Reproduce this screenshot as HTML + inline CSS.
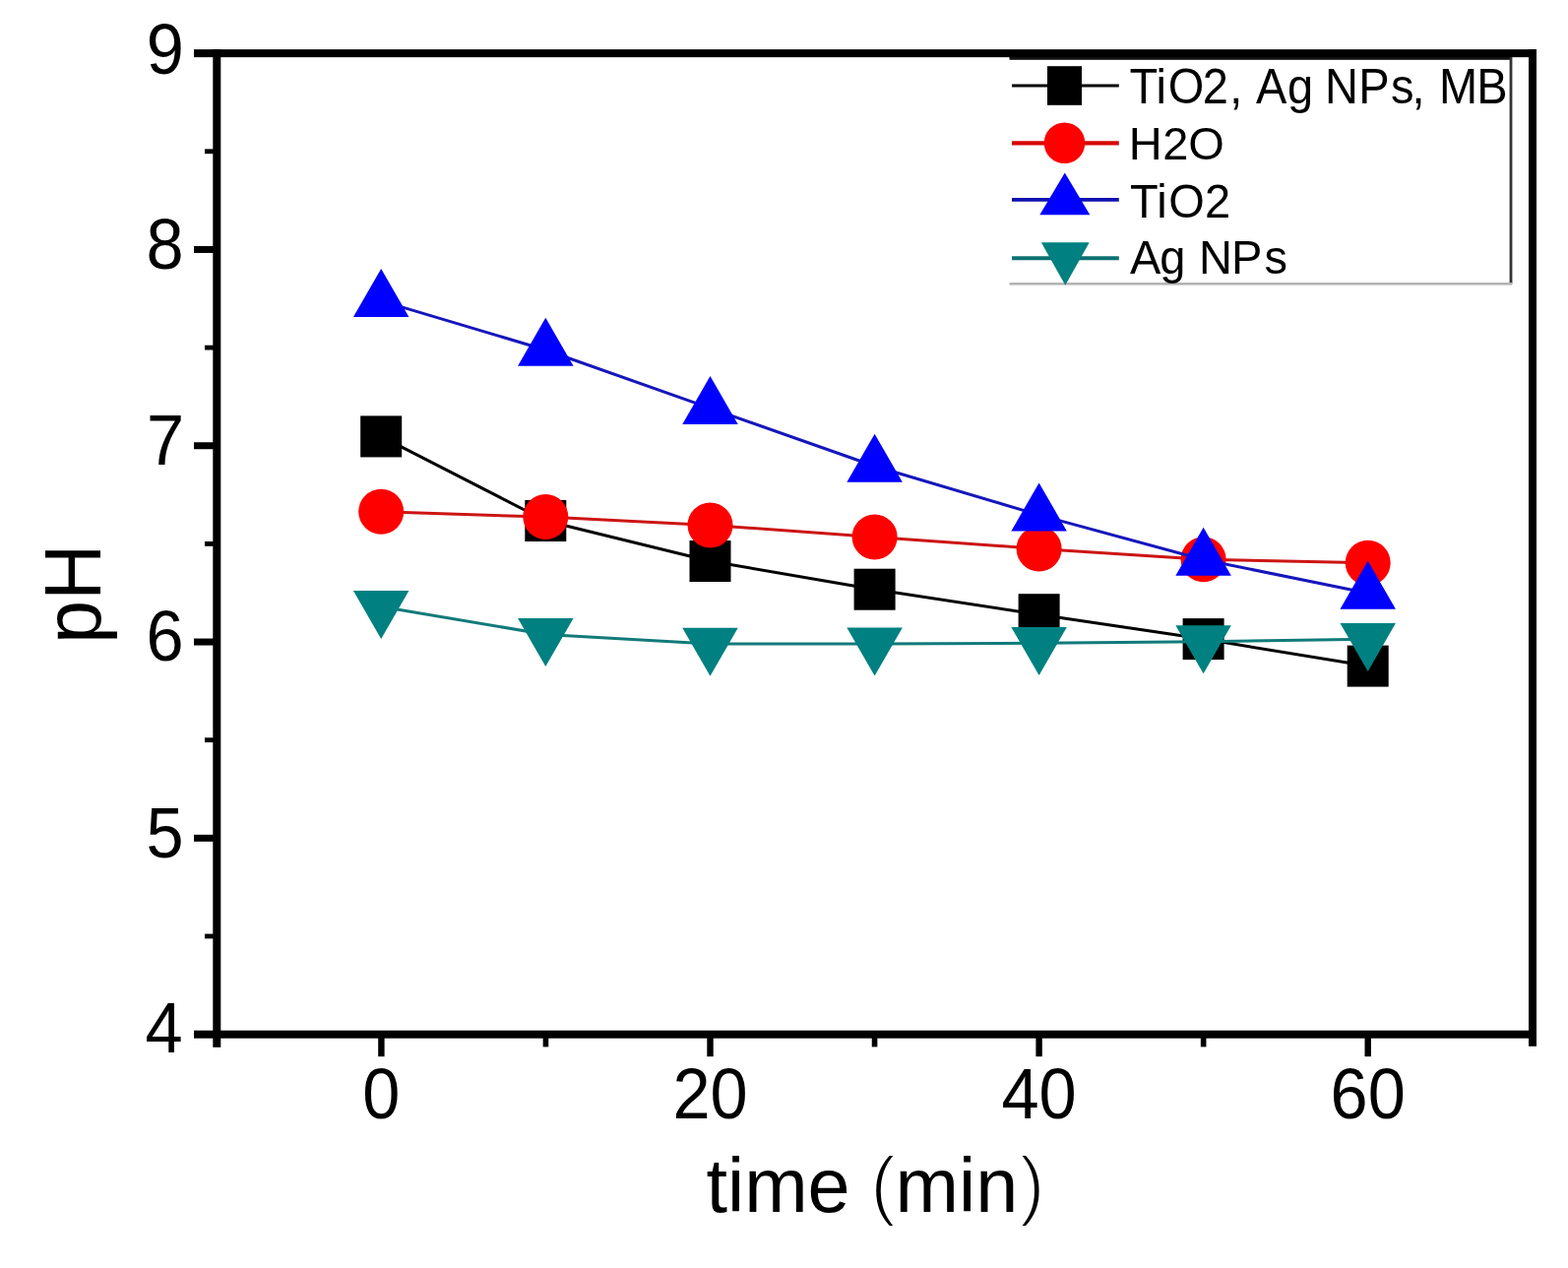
<!DOCTYPE html><html><head><meta charset="utf-8"><title>pH vs time</title><style>html,body{margin:0;padding:0;background:#fff;}svg{display:block;}text{font-family:"Liberation Sans",Arial,sans-serif;fill:#000;}</style></head><body>
<svg width="1593" height="1288" viewBox="0 0 1593 1288">
<rect width="1593" height="1288" fill="#fff"/>
<polyline points="387.2,443.4 554.3,529 721.5,570 888.6,598.7 1055.6,624.2 1222.6,649.1 1389.7,676.6" fill="none" stroke="#000000" stroke-width="3" stroke-linejoin="round"/>
<rect x="366.2" y="422.4" width="42" height="42" fill="#000"/>
<rect x="533.3" y="508" width="42" height="42" fill="#000"/>
<rect x="700.5" y="549" width="42" height="42" fill="#000"/>
<rect x="867.6" y="577.7" width="42" height="42" fill="#000"/>
<rect x="1034.6" y="603.2" width="42" height="42" fill="#000"/>
<rect x="1201.6" y="628.1" width="42" height="42" fill="#000"/>
<rect x="1368.7" y="655.6" width="42" height="42" fill="#000"/>
<polyline points="387.2,519.8 554.3,525.1 721.5,533.4 888.6,545.4 1055.6,557.4 1222.6,568.2 1389.7,571.7" fill="none" stroke="#cc1414" stroke-width="3" stroke-linejoin="round"/>
<circle cx="387.2" cy="519.8" r="23" fill="#ff0000"/>
<circle cx="554.3" cy="525.1" r="23" fill="#ff0000"/>
<circle cx="721.5" cy="533.4" r="23" fill="#ff0000"/>
<circle cx="888.6" cy="545.4" r="23" fill="#ff0000"/>
<circle cx="1055.6" cy="557.4" r="23" fill="#ff0000"/>
<circle cx="1222.6" cy="568.2" r="23" fill="#ff0000"/>
<circle cx="1389.7" cy="571.7" r="23" fill="#ff0000"/>
<polyline points="387.2,305.6 554.3,355.5 721.5,414.6 888.6,473.5 1055.6,523.1 1222.6,568.5 1389.7,602.5" fill="none" stroke="#1616bc" stroke-width="3" stroke-linejoin="round"/>
<polygon points="387.2,272.93 415.45,321.93 358.95,321.93" fill="#0000ff"/>
<polygon points="554.3,322.83 582.55,371.83 526.05,371.83" fill="#0000ff"/>
<polygon points="721.5,381.93 749.75,430.93 693.25,430.93" fill="#0000ff"/>
<polygon points="888.6,440.83 916.85,489.83 860.35,489.83" fill="#0000ff"/>
<polygon points="1055.6,490.43 1083.85,539.43 1027.35,539.43" fill="#0000ff"/>
<polygon points="1222.6,535.83 1250.85,584.83 1194.35,584.83" fill="#0000ff"/>
<polygon points="1389.7,569.83 1417.95,618.83 1361.45,618.83" fill="#0000ff"/>
<polyline points="387.2,616.3 554.3,644.4 721.5,654.1 888.6,653.9 1055.6,653.3 1222.6,651.7 1389.7,649.3" fill="none" stroke="#127a7a" stroke-width="3" stroke-linejoin="round"/>
<polygon points="358.95,599.97 415.45,599.97 387.2,648.97" fill="#008080"/>
<polygon points="526.05,628.07 582.55,628.07 554.3,677.07" fill="#008080"/>
<polygon points="693.25,637.77 749.75,637.77 721.5,686.77" fill="#008080"/>
<polygon points="860.35,637.57 916.85,637.57 888.6,686.57" fill="#008080"/>
<polygon points="1027.35,636.97 1083.85,636.97 1055.6,685.97" fill="#008080"/>
<polygon points="1194.35,635.37 1250.85,635.37 1222.6,684.37" fill="#008080"/>
<polygon points="1361.45,632.97 1417.95,632.97 1389.7,681.97" fill="#008080"/>
<rect x="1025.5" y="58" width="509.5" height="230.4" fill="#fff"/>
<rect x="1025.5" y="58" width="509.5" height="2.8" fill="#111"/>
<rect x="1533.6" y="58" width="2.8" height="230.4" fill="#333"/>
<rect x="1025.5" y="287" width="510.5" height="2.6" fill="#b4b4b4"/>
<line x1="1028" y1="86.9" x2="1136.8" y2="86.9" stroke="#000000" stroke-width="3"/>
<line x1="1028" y1="145.4" x2="1136.8" y2="145.4" stroke="#d80808" stroke-width="4.2"/>
<line x1="1028" y1="202.9" x2="1136.8" y2="202.9" stroke="#1010b0" stroke-width="3.6"/>
<line x1="1028" y1="262.2" x2="1136.8" y2="262.2" stroke="#0c7070" stroke-width="4"/>
<rect x="1064" y="67.2" width="35" height="39.6" fill="#000"/>
<circle cx="1081.5" cy="145.2" r="20.8" fill="#ff0000"/>
<polygon points="1081.8,175.47 1107.3,218.27 1056.3,218.27" fill="#0000ff"/>
<polygon points="1057.9,246.37 1106.7,246.37 1082.3,289.67" fill="#008080"/>
<text transform="translate(0 104.5) scale(1 1.05)" x="1147.44 1174.56 1186.77 1221.74 1249.38 1262.44 1276.11 1308.03 1334.17 1345.94 1380.14 1413.09 1434.58 1447.64 1461.94 1500.14" font-size="47">TiO2, Ag NPs, MB</text>
<text transform="translate(0 161.6) scale(1 1)" x="1146.74 1181.14 1207.17" font-size="47">H2O</text>
<text transform="translate(0 221) scale(1 1.03)" x="1147.94 1175.16 1187.27 1224.04" font-size="47">TiO2</text>
<text transform="translate(0 278.4) scale(1 1.03)" x="1148.11 1178.23 1204.37 1217.94 1250.94 1284.49" font-size="47">Ag NPs</text>
<g fill="#000">
<rect x="197" y="50.15" width="1364" height="8"/>
<rect x="197" y="1046.7" width="1364" height="8"/>
<rect x="216.3" y="50.15" width="8" height="1013.65"/>
<rect x="1553" y="50.15" width="8" height="1012.65"/>
<rect x="197" y="249.95" width="23.3" height="7"/>
<rect x="197" y="449.25" width="23.3" height="7"/>
<rect x="197" y="648.55" width="23.3" height="7"/>
<rect x="197" y="847.85" width="23.3" height="7"/>
<rect x="208" y="151.4" width="12.3" height="4.8"/>
<rect x="208" y="350.7" width="12.3" height="4.8"/>
<rect x="208" y="550" width="12.3" height="4.8"/>
<rect x="208" y="749.3" width="12.3" height="4.8"/>
<rect x="208" y="948.6" width="12.3" height="4.8"/>
<rect x="384.2" y="1050.7" width="6.4" height="22.5"/>
<rect x="718.3" y="1050.7" width="6.4" height="22.5"/>
<rect x="1052.4" y="1050.7" width="6.4" height="22.5"/>
<rect x="1386.5" y="1050.7" width="6.4" height="22.5"/>
<rect x="551.65" y="1050.7" width="5.6" height="12.7"/>
<rect x="885.75" y="1050.7" width="5.6" height="12.7"/>
<rect x="1219.85" y="1050.7" width="5.6" height="12.7"/>
</g>
<text transform="translate(186.89 74.85) scale(1 1.05)" text-anchor="end" font-size="68.5">9</text>
<text transform="translate(186.61 272.65) scale(1 1.05)" text-anchor="end" font-size="68.5">8</text>
<text transform="translate(187.09 471.95) scale(1 1.05)" text-anchor="end" font-size="68.5">7</text>
<text transform="translate(186.68 671.25) scale(1 1.05)" text-anchor="end" font-size="68.5">6</text>
<text transform="translate(186.55 870.55) scale(1 1.05)" text-anchor="end" font-size="68.5">5</text>
<text transform="translate(185.66 1068.55) scale(1 1.05)" text-anchor="end" font-size="68.5">4</text>
<text transform="translate(387.4 1135.8) scale(1 1.05)" text-anchor="middle" font-size="68.5">0</text>
<text transform="translate(721.5 1135.8) scale(1 1.05)" text-anchor="middle" font-size="68.5">20</text>
<text transform="translate(1055.6 1135.8) scale(1 1.05)" text-anchor="middle" font-size="68.5">40</text>
<text transform="translate(1389.7 1135.8) scale(1 1.05)" text-anchor="middle" font-size="68.5">60</text>
<text x="717.43 738.93 756.13 820.6 863.65 884.3 909.56 974.03 991.23 1035.85" y="1231 1231 1231 1231 1231 1229.6 1231 1231 1231 1229.6" font-size="77.4">time <tspan stroke="#fff" stroke-width="2.2">(</tspan>min<tspan stroke="#fff" stroke-width="2.2">)</tspan></text>
<text transform="translate(102 653.73) rotate(-90) scale(1 1.025)" font-size="78.9">pH</text>
</svg></body></html>
